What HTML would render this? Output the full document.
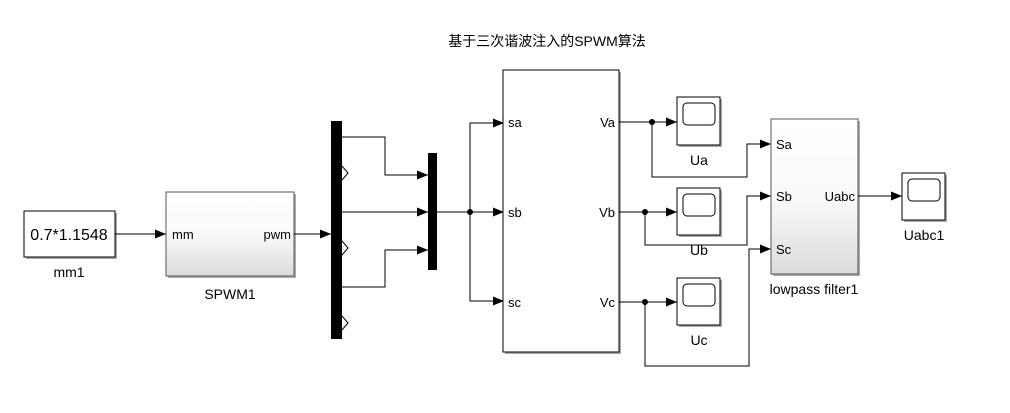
<!DOCTYPE html>
<html><head><meta charset="utf-8"><style>
body{margin:0;background:#fff;}
svg text{font-family:"Liberation Sans","Noto Sans CJK SC",sans-serif;fill:#000;}
</style></head><body>
<svg width="1010" height="408" viewBox="0 0 1010 408" xmlns="http://www.w3.org/2000/svg">
<defs>
<linearGradient id="g" x1="0" y1="0" x2="0" y2="1"><stop offset="0" stop-color="#fff"/><stop offset="0.5" stop-color="#fafafa"/><stop offset="1" stop-color="#dcdcdc"/></linearGradient>
<marker id="a" markerWidth="11" markerHeight="9" refX="11" refY="4.5" orient="auto" markerUnits="userSpaceOnUse"><path d="M0,0 L11,4.5 L0,9 Z" fill="#000"/></marker>
</defs>
<text x="547" y="46" font-size="14" text-anchor="middle">基于三次谐波注入的SPWM算法</text>
<g fill="none" stroke="#000" stroke-width="1">
<rect x="26" y="213" width="91" height="46" fill="#aaa" stroke="none"/>
<rect x="24" y="211" width="91" height="46" fill="#fff"/>
<rect x="168" y="194" width="128" height="84" fill="#aaa" stroke="none"/>
<rect x="166" y="192" width="128" height="84" fill="url(#g)" stroke="#555"/>
<line x1="115" y1="234" x2="166" y2="234" marker-end="url(#a)"/>
<line x1="294" y1="234" x2="331" y2="234" marker-end="url(#a)"/>
<polyline points="342,137 385,137 385,175 428,175" marker-end="url(#a)"/>
<line x1="342" y1="212" x2="428" y2="212" marker-end="url(#a)"/>
<polyline points="342,287 385,287 385,250 428,250" marker-end="url(#a)"/>
<polyline points="342,166 348,173 342,180"/>
<polyline points="342,241 348,248 342,255"/>
<polyline points="342,316 348,323 342,330"/>
<line x1="437" y1="212" x2="504" y2="212" marker-end="url(#a)"/>
<polyline points="470,212 470,123 504,123" marker-end="url(#a)"/>
<polyline points="470,212 470,301 504,301" marker-end="url(#a)"/>
<rect x="505" y="72" width="116" height="282" fill="#aaa" stroke="none"/>
<rect x="503" y="70" width="116" height="282" fill="#fff"/>
<line x1="619" y1="122" x2="677" y2="122" marker-end="url(#a)"/>
<line x1="619" y1="212" x2="677" y2="212" marker-end="url(#a)"/>
<line x1="619" y1="302" x2="677" y2="302" marker-end="url(#a)"/>
<polyline points="652,122 652,177 747,177 747,144 771,144" marker-end="url(#a)"/>
<polyline points="645,212 645,245 747,245 747,196 771,196" marker-end="url(#a)"/>
<polyline points="645,302 645,366 749,366 749,249 771,249" marker-end="url(#a)"/>
<rect x="679" y="99" width="43" height="48" fill="#aaa" stroke="none"/>
<rect x="677" y="97" width="43" height="48" fill="#fff"/>
<rect x="683" y="103" width="32" height="22" rx="4"/>
<rect x="679" y="190" width="43" height="47" fill="#aaa" stroke="none"/>
<rect x="677" y="188" width="43" height="47" fill="#fff"/>
<rect x="683" y="194" width="32" height="22" rx="4"/>
<rect x="679" y="280" width="43" height="47" fill="#aaa" stroke="none"/>
<rect x="677" y="278" width="43" height="47" fill="#fff"/>
<rect x="683" y="284" width="32" height="22" rx="4"/>
<rect x="773" y="121" width="87" height="155" fill="#aaa" stroke="none"/>
<rect x="771" y="119" width="87" height="155" fill="url(#g)" stroke="#555"/>
<line x1="858" y1="196" x2="902" y2="196" marker-end="url(#a)"/>
<rect x="904" y="175" width="43" height="47" fill="#aaa" stroke="none"/>
<rect x="902" y="173" width="43" height="47" fill="#fff"/>
<rect x="908" y="179" width="32" height="22" rx="4"/>
</g>
<rect x="331" y="121" width="11" height="218" fill="#000"/>
<rect x="428" y="153" width="9" height="117" fill="#000"/>
<circle cx="470" cy="212" r="3" fill="#000"/>
<circle cx="652" cy="122" r="3" fill="#000"/>
<circle cx="645" cy="212" r="3" fill="#000"/>
<circle cx="645" cy="302" r="3" fill="#000"/>
<g font-size="14">
<text x="69" y="240" text-anchor="middle" font-size="16">0.7*1.1548</text>
<text x="69" y="277" text-anchor="middle">mm1</text>
<text x="172" y="239" font-size="13">mm</text>
<text x="291" y="239" text-anchor="end" font-size="13">pwm</text>
<text x="230" y="299" text-anchor="middle">SPWM1</text>
<g font-size="13">
<text x="508" y="127">sa</text>
<text x="508" y="217">sb</text>
<text x="508" y="307">sc</text>
<text x="615" y="127" text-anchor="end">Va</text>
<text x="615" y="217" text-anchor="end">Vb</text>
<text x="615" y="307" text-anchor="end">Vc</text>
<text x="776" y="149">Sa</text>
<text x="776" y="201">Sb</text>
<text x="776" y="254">Sc</text>
<text x="855" y="201" text-anchor="end">Uabc</text>
</g>
<text x="699" y="165" text-anchor="middle">Ua</text>
<text x="699" y="255" text-anchor="middle">Ub</text>
<text x="699" y="345" text-anchor="middle">Uc</text>
<text x="814" y="294" text-anchor="middle">lowpass filter1</text>
<text x="924" y="240" text-anchor="middle">Uabc1</text>
</g>
</svg>
</body></html>
